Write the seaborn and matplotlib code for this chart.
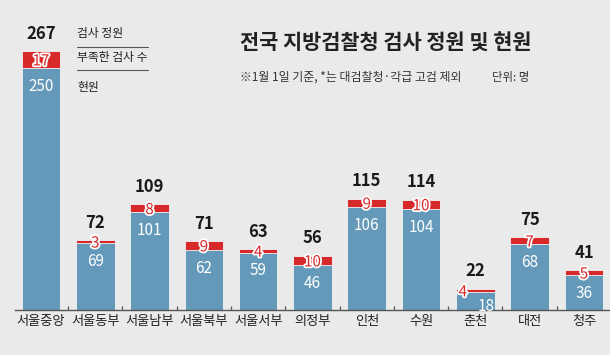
import matplotlib
matplotlib.use("Agg")
import matplotlib.pyplot as plt
import matplotlib.patheffects as pe
import seaborn as sns
import pandas as pd

categories = ["서울중앙", "서울동부", "서울남부", "서울북부", "서울서부", "의정부",
              "인천", "수원", "춘천", "대전", "청주"]
current = [250, 69, 101, 62, 59, 46, 106, 104, 18, 68, 36]
shortage = [17, 3, 8, 9, 4, 10, 9, 10, 4, 7, 5]
quota = [267, 72, 109, 71, 63, 56, 115, 114, 22, 75, 41]

sns.set_theme(style="white")
plt.rcParams['font.family'] = ['Noto Sans CJK KR', 'DejaVu Sans']

BG = "#eaeaea"
BLUE = "#6499b9"
RED = "#d8292a"

df = pd.DataFrame({"cat": categories, "current": current,
                   "shortage": shortage, "quota": quota})

fig = plt.figure(figsize=(6.1, 3.55), dpi=100, facecolor=BG)
ax = fig.add_axes([0.0, 0.127, 1.0, 0.873])
ax.set_facecolor(BG)

sns.barplot(data=df, x="cat", y="quota", color=RED, width=0.71,
            saturation=1, ax=ax, edgecolor="#f4f4f4", linewidth=0.6)
sns.barplot(data=df, x="cat", y="current", color=BLUE, width=0.71,
            saturation=1, ax=ax, edgecolor="#f4f4f4", linewidth=0.6)

ax.set_xlim(-0.755, 10.48)
ax.set_ylim(0, 320)
for s in ["top", "right", "left"]:
    ax.spines[s].set_visible(False)
ax.spines["bottom"].set_color("#555555")
ax.spines["bottom"].set_linewidth(1.0)
ax.spines["bottom"].set_bounds(-0.48, 10.48)
ax.set_yticks([])
ax.set_xlabel("")
ax.set_ylabel("")
ax.set_xticks(range(len(categories)))
ax.set_xticklabels(categories, fontsize=9.5, color="#222222")
ax.tick_params(axis="x", length=0, pad=4)
# small separator ticks
for i in range(len(categories) - 1):
    ax.plot([i + 0.5, i + 0.5], [0, 4], color="#555555", lw=0.9,
            solid_capstyle="butt")

stroke = [pe.withStroke(linewidth=2.6, foreground="white")]
for i in range(len(categories)):
    q, c, s = quota[i], current[i], shortage[i]
    ax.annotate(str(q), (i, q), xytext=(0, 6), textcoords="offset points",
                ha="center", va="bottom", fontsize=12, fontweight="bold",
                color="#1a1a1a")
    xoff = 0
    sx = 0
    if categories[i] == "춘천":
        xoff = 8
        sx = -9
    ax.annotate(str(s), (i, c + s / 2), xytext=(sx, -1), textcoords="offset points",
                ha="center", va="center", fontsize=11, color=RED,
                path_effects=stroke)
    ax.annotate(str(c), (i, c), xytext=(xoff, -7 if categories[i] != "춘천" else -4),
                textcoords="offset points",
                ha="center", va="top", fontsize=11, color="white")

# legend texts
fig.text(77 / 610, 1 - 33 / 355, "검사 정원", fontsize=8.5, color="#222222",
         ha="left", va="center")
fig.text(77 / 610, 1 - 58 / 355, "부족한 검사 수", fontsize=8.5, color="#222222",
         ha="left", va="center")
fig.text(77 / 610, 1 - 88 / 355, "현원", fontsize=8.5, color="#222222",
         ha="left", va="center")
for yy in (47, 70):
    fig.add_artist(plt.Line2D([77 / 610, 148 / 610], [1 - yy / 355, 1 - yy / 355],
                              color="#555555", lw=0.8))

fig.text(240 / 610, 1 - 42 / 355, "전국 지방검찰청 검사 정원 및 현원", fontsize=15,
         fontweight="bold", color="#222222", ha="left", va="center")
fig.text(240 / 610, 1 - 77 / 355, "※1월 1일 기준, *는 대검찰청·각급 고검 제외",
         fontsize=8.6, color="#333333", ha="left", va="center")
fig.text(492 / 610, 1 - 77 / 355, "단위: 명", fontsize=8.2, color="#333333",
         ha="left", va="center")

fig.savefig("out.png", dpi=100, facecolor=BG)
